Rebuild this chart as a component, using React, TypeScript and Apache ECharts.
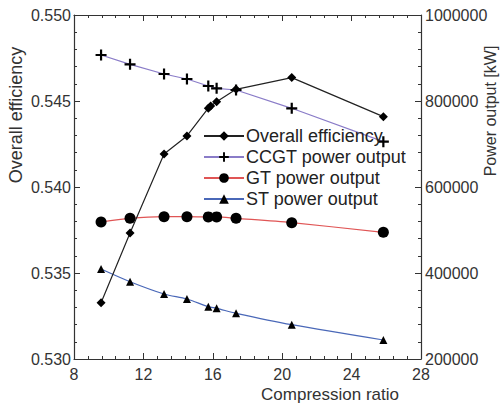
import React, { useEffect, useRef } from "react";
import * as echarts from "echarts";

const effRatio = [9.56, 11.23, 13.19, 14.51, 15.74, 15.88, 16.22, 17.34, 20.55, 25.83];
const efficiency = [0.53327, 0.53733, 0.54192, 0.54297, 0.54458, 0.54471, 0.54496, 0.54568, 0.54636, 0.54409];

const powerRatio = [9.56, 11.23, 13.19, 14.51, 15.74, 16.22, 17.34, 20.55, 25.83];
const ccgtPower = [907000, 885300, 862800, 851200, 834900, 829500, 825600, 783000, 705400];
const gtPower = [518600, 527200, 531000, 531000, 530500, 530500, 527200, 517000, 494600];
const stPower = [409300, 379800, 351200, 339500, 321700, 317900, 306300, 279800, 244200];

const xTicks = { min: 8, max: 28, interval: 4 };
const effTicks = { min: 0.53, max: 0.55, interval: 0.005 };
const powTicks = { min: 200000, max: 1000000, interval: 200000 };

const FONT = "Liberation Sans, Arial, Helvetica, sans-serif";
const PLUS = "path://M4,0H6V4H10V6H6V10H4V6H0V4H4Z";

const pair = (xs: number[], ys: number[]) => xs.map((x, i) => [x, ys[i]]);

export default function App() {
  const ref = useRef<HTMLDivElement>(null);
  useEffect(() => {
    if (!ref.current) return;
    const chart = echarts.init(ref.current, null, { renderer: "svg" });
    const axisLine = { show: true, lineStyle: { color: "#333", width: 1.2 } };
    const axisTick = { show: true, inside: true, length: 6, lineStyle: { color: "#333" } };
    const minorTick = { show: true, splitNumber: 5, length: 3, lineStyle: { color: "#333" } };
    const label = { color: "#333", fontSize: 16, fontFamily: FONT };
    chart.setOption({
      animation: false,
      backgroundColor: "#fff",
      grid: { left: 74, right: 79, top: 15, bottom: 49, containLabel: false },
      xAxis: [
        {
          type: "value",
          position: "bottom",
          ...xTicks,
          axisLine,
          axisTick,
          minorTick,
          splitLine: { show: false },
          axisLabel: { ...label, margin: 7 },
        },
        {
          type: "value",
          position: "top",
          ...xTicks,
          axisLine,
          axisTick,
          minorTick,
          splitLine: { show: false },
          axisLabel: { show: false },
        },
      ],
      yAxis: [
        {
          type: "value",
          position: "left",
          ...effTicks,
          axisLine,
          axisTick,
          minorTick,
          splitLine: { show: false },
          axisLabel: { ...label, margin: 3, formatter: (v: number) => v.toFixed(3) },
        },
        {
          type: "value",
          position: "right",
          ...powTicks,
          axisLine,
          axisTick,
          minorTick,
          splitLine: { show: false },
          axisLabel: { ...label, margin: 4, formatter: (v: number) => String(Math.round(v)) },
        },
      ],
      legend: {
        orient: "vertical",
        left: 198,
        top: 122,
        itemWidth: 40,
        itemHeight: 12,
        itemGap: 3,
        textStyle: { color: "#222", fontSize: 18, fontFamily: FONT, padding: [0, 0, 0, -3] },
        data: ["Overall efficiency", "CCGT power output", "GT power output", "ST power output"],
      },
      graphic: [
        {
          type: "text",
          x: 16,
          y: 115,
          rotation: Math.PI / 2,
          style: {
            text: "Overall efficiency",
            fontSize: 18,
            fontFamily: FONT,
            fill: "#333",
            textAlign: "center",
            textVerticalAlign: "middle",
          },
        },
        {
          type: "text",
          x: 490,
          y: 111,
          rotation: Math.PI / 2,
          style: {
            text: "Power output [kW]",
            fontSize: 16,
            fontFamily: FONT,
            fill: "#333",
            textAlign: "center",
            textVerticalAlign: "middle",
          },
        },
        {
          type: "text",
          x: 330,
          y: 394,
          style: {
            text: "Compression ratio",
            fontSize: 17,
            fontFamily: FONT,
            fill: "#333",
            textAlign: "center",
            textVerticalAlign: "middle",
          },
        },
      ],
      series: [
        {
          name: "Overall efficiency",
          type: "line",
          xAxisIndex: 0,
          yAxisIndex: 0,
          data: pair(effRatio, efficiency),
          symbol: "diamond",
          symbolSize: 9,
          lineStyle: { color: "#222", width: 1.2 },
          itemStyle: { color: "#000" },
          z: 5,
        },
        {
          name: "CCGT power output",
          type: "line",
          xAxisIndex: 0,
          yAxisIndex: 1,
          data: pair(powerRatio, ccgtPower),
          symbol: PLUS,
          symbolSize: 11,
          lineStyle: { color: "#8a7cc8", width: 1.2 },
          itemStyle: { color: "#000" },
        },
        {
          name: "GT power output",
          type: "line",
          xAxisIndex: 0,
          yAxisIndex: 1,
          data: pair(powerRatio, gtPower),
          smooth: 0.3,
          symbol: "circle",
          symbolSize: 11,
          lineStyle: { color: "#e05555", width: 1.2 },
          itemStyle: { color: "#000" },
        },
        {
          name: "ST power output",
          type: "line",
          xAxisIndex: 0,
          yAxisIndex: 1,
          data: pair(powerRatio, stPower),
          smooth: 0.3,
          symbol: "triangle",
          symbolSize: 8,
          lineStyle: { color: "#4a68b8", width: 1.2 },
          itemStyle: { color: "#000" },
        },
      ],
    });
    return () => chart.dispose();
  }, []);
  return <div ref={ref} style={{ width: 500, height: 408, position: "absolute", left: 0, top: 0 }} />;
}
